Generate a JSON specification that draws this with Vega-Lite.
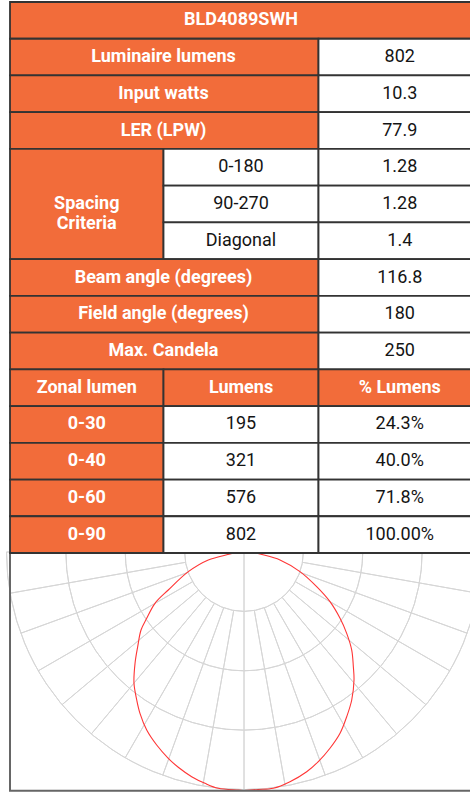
{
  "$schema": "https://vega.github.io/schema/vega-lite/v6.json",
  "width": 470,
  "height": 792,
  "padding": 0,
  "autosize": {"type": "fit", "contains": "padding"},
  "background": "#ffffff",
  "config": {"view": {"stroke": null}, "font": "Roboto"},
  "datasets": {
    "cells": [
      {"id": 1, "r0": 0, "r1": 1, "c0": 0, "c1": 3, "label": "BLD4089SWH", "kind": "head"},
      {"id": 2, "r0": 1, "r1": 2, "c0": 0, "c1": 2, "label": "Luminaire lumens", "kind": "head"},
      {"id": 3, "r0": 1, "r1": 2, "c0": 2, "c1": 3, "label": "802", "kind": "value"},
      {"id": 4, "r0": 2, "r1": 3, "c0": 0, "c1": 2, "label": "Input watts", "kind": "head"},
      {"id": 5, "r0": 2, "r1": 3, "c0": 2, "c1": 3, "label": "10.3", "kind": "value"},
      {"id": 6, "r0": 3, "r1": 4, "c0": 0, "c1": 2, "label": "LER (LPW)", "kind": "head"},
      {"id": 7, "r0": 3, "r1": 4, "c0": 2, "c1": 3, "label": "77.9", "kind": "value"},
      {"id": 8, "r0": 4, "r1": 7, "c0": 0, "c1": 1, "label": "Spacing\nCriteria", "kind": "head"},
      {"id": 9, "r0": 4, "r1": 5, "c0": 1, "c1": 2, "label": "0-180", "kind": "value"},
      {"id": 10, "r0": 4, "r1": 5, "c0": 2, "c1": 3, "label": "1.28", "kind": "value"},
      {"id": 11, "r0": 5, "r1": 6, "c0": 1, "c1": 2, "label": "90-270", "kind": "value"},
      {"id": 12, "r0": 5, "r1": 6, "c0": 2, "c1": 3, "label": "1.28", "kind": "value"},
      {"id": 13, "r0": 6, "r1": 7, "c0": 1, "c1": 2, "label": "Diagonal", "kind": "value"},
      {"id": 14, "r0": 6, "r1": 7, "c0": 2, "c1": 3, "label": "1.4", "kind": "value"},
      {"id": 15, "r0": 7, "r1": 8, "c0": 0, "c1": 2, "label": "Beam angle (degrees)", "kind": "head"},
      {"id": 16, "r0": 7, "r1": 8, "c0": 2, "c1": 3, "label": "116.8", "kind": "value"},
      {"id": 17, "r0": 8, "r1": 9, "c0": 0, "c1": 2, "label": "Field angle (degrees)", "kind": "head"},
      {"id": 18, "r0": 8, "r1": 9, "c0": 2, "c1": 3, "label": "180", "kind": "value"},
      {"id": 19, "r0": 9, "r1": 10, "c0": 0, "c1": 2, "label": "Max. Candela", "kind": "head"},
      {"id": 20, "r0": 9, "r1": 10, "c0": 2, "c1": 3, "label": "250", "kind": "value"},
      {"id": 21, "r0": 10, "r1": 11, "c0": 0, "c1": 1, "label": "Zonal lumen", "kind": "head"},
      {"id": 22, "r0": 10, "r1": 11, "c0": 1, "c1": 2, "label": "Lumens", "kind": "head"},
      {"id": 23, "r0": 10, "r1": 11, "c0": 2, "c1": 3, "label": "% Lumens", "kind": "head"},
      {"id": 24, "r0": 11, "r1": 12, "c0": 0, "c1": 1, "label": "0-30", "kind": "head"},
      {"id": 25, "r0": 11, "r1": 12, "c0": 1, "c1": 2, "label": "195", "kind": "value"},
      {"id": 26, "r0": 11, "r1": 12, "c0": 2, "c1": 3, "label": "24.3%", "kind": "value"},
      {"id": 27, "r0": 12, "r1": 13, "c0": 0, "c1": 1, "label": "0-40", "kind": "head"},
      {"id": 28, "r0": 12, "r1": 13, "c0": 1, "c1": 2, "label": "321", "kind": "value"},
      {"id": 29, "r0": 12, "r1": 13, "c0": 2, "c1": 3, "label": "40.0%", "kind": "value"},
      {"id": 30, "r0": 13, "r1": 14, "c0": 0, "c1": 1, "label": "0-60", "kind": "head"},
      {"id": 31, "r0": 13, "r1": 14, "c0": 1, "c1": 2, "label": "576", "kind": "value"},
      {"id": 32, "r0": 13, "r1": 14, "c0": 2, "c1": 3, "label": "71.8%", "kind": "value"},
      {"id": 33, "r0": 14, "r1": 15, "c0": 0, "c1": 1, "label": "0-90", "kind": "head"},
      {"id": 34, "r0": 14, "r1": 15, "c0": 1, "c1": 2, "label": "802", "kind": "value"},
      {"id": 35, "r0": 14, "r1": 15, "c0": 2, "c1": 3, "label": "100.00%", "kind": "value"}
    ],
    "frame": [
      {"r0": 15, "r1": 21.47, "c0": 0, "c1": 3}
    ],
    "grid": [
      {"a0": -90, "a1": 90, "r0": 62.5, "r1": 62.5},
      {"a0": -90, "a1": 90, "r0": 125, "r1": 125},
      {"a0": -90, "a1": 90, "r0": 187.5, "r1": 187.5},
      {"a0": -90, "a1": 90, "r0": 250, "r1": 250},
      {"a0": -90, "a1": -90, "r0": 62.5, "r1": 250},
      {"a0": -80, "a1": -80, "r0": 62.5, "r1": 250},
      {"a0": -70, "a1": -70, "r0": 62.5, "r1": 250},
      {"a0": -60, "a1": -60, "r0": 62.5, "r1": 250},
      {"a0": -50, "a1": -50, "r0": 62.5, "r1": 250},
      {"a0": -40, "a1": -40, "r0": 62.5, "r1": 250},
      {"a0": -30, "a1": -30, "r0": 62.5, "r1": 250},
      {"a0": -20, "a1": -20, "r0": 62.5, "r1": 250},
      {"a0": -10, "a1": -10, "r0": 62.5, "r1": 250},
      {"a0": 0, "a1": 0, "r0": 0, "r1": 250},
      {"a0": 10, "a1": 10, "r0": 62.5, "r1": 250},
      {"a0": 20, "a1": 20, "r0": 62.5, "r1": 250},
      {"a0": 30, "a1": 30, "r0": 62.5, "r1": 250},
      {"a0": 40, "a1": 40, "r0": 62.5, "r1": 250},
      {"a0": 50, "a1": 50, "r0": 62.5, "r1": 250},
      {"a0": 60, "a1": 60, "r0": 62.5, "r1": 250},
      {"a0": 70, "a1": 70, "r0": 62.5, "r1": 250},
      {"a0": 80, "a1": 80, "r0": 62.5, "r1": 250},
      {"a0": 90, "a1": 90, "r0": 62.5, "r1": 250}
    ],
    "curve": [
      {"i": 0, "h": -7.4, "v": 0},
      {"i": 1, "h": -14.7, "v": 2.1},
      {"i": 2, "h": -37.6, "v": 8.4},
      {"i": 3, "h": -58.6, "v": 20.7},
      {"i": 4, "h": -79.7, "v": 40},
      {"i": 5, "h": -93.7, "v": 54},
      {"i": 6, "h": -102.4, "v": 69.8},
      {"i": 7, "h": -108.4, "v": 82.1},
      {"i": 8, "h": -111.9, "v": 99.7},
      {"i": 9, "h": -114.7, "v": 117.2},
      {"i": 10, "h": -115.8, "v": 138.2},
      {"i": 11, "h": -112.9, "v": 155.8},
      {"i": 12, "h": -109.5, "v": 169.8},
      {"i": 13, "h": -102.4, "v": 187.4},
      {"i": 14, "h": -91.9, "v": 203.2},
      {"i": 15, "h": -79.7, "v": 217.2},
      {"i": 16, "h": -69.2, "v": 226.6},
      {"i": 17, "h": -55.1, "v": 236.5},
      {"i": 18, "h": -41.1, "v": 243.5},
      {"i": 19, "h": -27.1, "v": 248.7},
      {"i": 20, "h": -6.0, "v": 250.5},
      {"i": 21, "h": 0, "v": 251},
      {"i": 22, "h": 14.7, "v": 250.0},
      {"i": 23, "h": 30.8, "v": 248.7},
      {"i": 24, "h": 48.4, "v": 241.8},
      {"i": 25, "h": 66, "v": 231.3},
      {"i": 26, "h": 78.2, "v": 220.7},
      {"i": 27, "h": 90.5, "v": 206.6},
      {"i": 28, "h": 101.1, "v": 190.8},
      {"i": 29, "h": 108.1, "v": 173.4},
      {"i": 30, "h": 113.4, "v": 155.8},
      {"i": 31, "h": 115.8, "v": 134.7},
      {"i": 32, "h": 115.1, "v": 120.7},
      {"i": 33, "h": 113.4, "v": 103.2},
      {"i": 34, "h": 108.1, "v": 85.6},
      {"i": 35, "h": 101.1, "v": 69.8},
      {"i": 36, "h": 90.5, "v": 52.3},
      {"i": 37, "h": 76.5, "v": 36.5},
      {"i": 38, "h": 58.9, "v": 20.7},
      {"i": 39, "h": 37.9, "v": 8.4},
      {"i": 40, "h": 16.8, "v": 2.1},
      {"i": 41, "h": 9.5, "v": 0}
    ]
  },
  "layer": [
    {
      "layer": [
        {
          "data": {"name": "grid"},
          "mark": {"type": "arc", "filled": false, "color": "#d6d6d6", "strokeWidth": 1},
          "encoding": {
            "x": {"datum": 0, "type": "quantitative", "scale": {"domain": [-250, 250], "range": [6.5, 481.5], "nice": false, "zero": false}, "axis": null},
            "y": {"datum": 0, "type": "quantitative", "scale": {"domain": [0, 250], "range": [552, 789.5], "nice": false, "zero": false}, "axis": null},
            "theta": {"field": "a0", "type": "quantitative", "stack": null, "scale": {"domain": [-180, 180], "range": [6.283185307179586, 0], "nice": false, "zero": false}},
            "theta2": {"field": "a1"},
            "radius": {"field": "r1", "type": "quantitative", "scale": {"type": "linear", "domain": [0, 250], "range": [0, 237.5], "nice": false, "zero": true}},
            "radius2": {"field": "r0"}
          }
        },
        {
          "data": {"name": "curve"},
          "mark": {"type": "line", "color": "#ff3535", "strokeWidth": 1.1, "interpolate": "catmull-rom"},
          "encoding": {
            "x": {"field": "h", "type": "quantitative", "scale": {"domain": [-250, 250], "range": [6.5, 481.5], "nice": false, "zero": false}, "axis": null},
            "y": {"field": "v", "type": "quantitative", "scale": {"domain": [0, 250], "range": [552, 789.5], "nice": false, "zero": false}, "axis": null},
            "order": {"field": "i", "type": "quantitative"}
          }
        }
      ]
    },
    {
      "layer": [
        {
          "data": {"name": "frame"},
          "mark": {"type": "rect", "fill": null, "fillOpacity": 0, "stroke": "#666666", "strokeWidth": 2},
          "encoding": {
            "x": {"field": "c0", "type": "quantitative", "scale": {"domain": [0, 1, 2, 3], "range": [10, 163.5, 318.5, 481], "nice": false, "zero": false}, "axis": null},
            "x2": {"field": "c1"},
            "y": {"field": "r0", "type": "quantitative", "scale": {"domain": [0, 15], "range": [2, 553], "nice": false, "zero": false}, "axis": null},
            "y2": {"field": "r1"}
          }
        },
        {
          "data": {"name": "cells"},
          "mark": {"type": "rect", "stroke": "#333333", "strokeWidth": 1.8},
          "encoding": {
            "x": {"field": "c0", "type": "quantitative", "scale": {"domain": [0, 1, 2, 3], "range": [10, 163.5, 318.5, 481], "nice": false, "zero": false}, "axis": null},
            "x2": {"field": "c1"},
            "y": {"field": "r0", "type": "quantitative", "scale": {"domain": [0, 15], "range": [2, 553], "nice": false, "zero": false}, "axis": null},
            "y2": {"field": "r1"},
            "fill": {"field": "kind", "type": "nominal", "scale": {"domain": ["head", "value"], "range": ["#f26c3a", "#ffffff"]}, "legend": null}
          }
        },
        {
          "data": {"name": "cells"},
          "transform": [
            {"filter": "datum.kind === 'head'"},
            {"fold": ["c0", "c1"], "as": ["cedge", "cpos"]},
            {"fold": ["r0", "r1"], "as": ["redge", "rpos"]}
          ],
          "mark": {"type": "text", "font": "Roboto", "fontWeight": "bold", "fontSize": 18, "color": "#ffffff", "align": "center", "baseline": "middle", "lineBreak": "\n", "lineHeight": 20},
          "encoding": {
            "x": {"aggregate": "mean", "field": "cpos", "type": "quantitative", "scale": {"domain": [0, 1, 2, 3], "range": [10, 163.5, 318.5, 481], "nice": false, "zero": false}, "axis": null},
            "y": {"aggregate": "mean", "field": "rpos", "type": "quantitative", "scale": {"domain": [0, 15], "range": [2, 553], "nice": false, "zero": false}, "axis": null},
            "detail": {"field": "id", "type": "nominal"},
            "text": {"field": "label", "type": "nominal"}
          }
        },
        {
          "data": {"name": "cells"},
          "transform": [
            {"filter": "datum.kind === 'value'"},
            {"fold": ["c0", "c1"], "as": ["cedge", "cpos"]},
            {"fold": ["r0", "r1"], "as": ["redge", "rpos"]}
          ],
          "mark": {"type": "text", "font": "Roboto", "fontSize": 18, "color": "#141414", "align": "center", "baseline": "middle"},
          "encoding": {
            "x": {"aggregate": "mean", "field": "cpos", "type": "quantitative", "scale": {"domain": [0, 1, 2, 3], "range": [10, 163.5, 318.5, 481], "nice": false, "zero": false}, "axis": null},
            "y": {"aggregate": "mean", "field": "rpos", "type": "quantitative", "scale": {"domain": [0, 15], "range": [2, 553], "nice": false, "zero": false}, "axis": null},
            "detail": {"field": "id", "type": "nominal"},
            "text": {"field": "label", "type": "nominal"}
          }
        }
      ]
    }
  ],
  "resolve": {"scale": {"x": "independent", "y": "independent"}}
}
